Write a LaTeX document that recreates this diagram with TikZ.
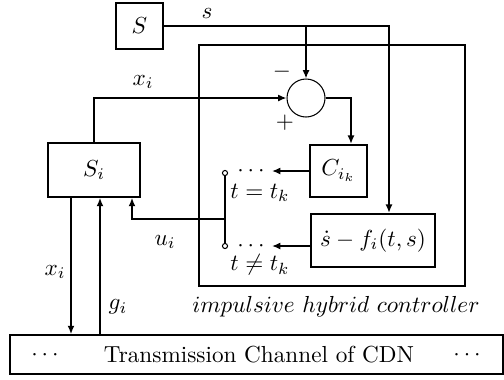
\documentclass[tikz,border=0pt]{standalone}
\usetikzlibrary{arrows.meta,calc}
\tikzset{
  blk/.style={draw, line width=0.75pt, inner sep=0pt},
  thk/.style={draw, line width=1.0pt, inner sep=0pt},
  arr/.style={-{Latex[length=3.6pt,width=3pt]}},
  ln/.style={line width=0.65pt},
  sw/.style={circle, draw, line width=0.45pt, inner sep=0pt, minimum size=2.2pt, fill=white},
  lab/.style={inner sep=0pt},
}
\begin{document}
\begin{tikzpicture}[x=0.431pt,y=-0.431pt]
\useasboundingbox (0,0) rectangle (504,379);
% blocks
\node[draw, line width=0.65pt, inner sep=0pt, minimum width={266*0.431pt}, minimum height={241*0.431pt}] (ctrl) at (332,165.5) {};
\node[blk, minimum width={47*0.431pt}, minimum height={46*0.431pt}] (S) at (139.5,26) {$S$};
\node[blk, minimum width={92*0.431pt}, minimum height={54*0.431pt}] (Si) at (94,170) {$S_i$};
\node[thk, minimum width={57*0.431pt}, minimum height={52*0.431pt}] (C) at (338.5,171) {$C_{i_k}$};
\node[thk, minimum width={124*0.431pt}, minimum height={53*0.431pt}] (sd) at (373,240.5) {$\dot s - f_i(t,s)$};
\node[draw, line width=0.45pt, circle, inner sep=0pt, minimum size={38*0.431pt}] (sum) at (306,98) {};
\node[blk, minimum width={493*0.431pt}, minimum height={39*0.431pt}] (ch) at (256.5,354.5) {};
% switch
\node[lab, anchor=west] (d1) at (237,171) {$\cdots$};
\node[lab, anchor=west] (d2) at (237,246) {$\cdots$};
\node[sw] (o1) at (225,173) {};
\node[sw] (o2) at (225,246) {};
% connectors
\draw[ln,arr] (S.east) -| ($(sd.north)+(16,0)$);
\coordinate (j1) at (S.east -| sum.north);
\draw[ln,arr] (j1) -- (sum.north);
\draw[ln,arr] (Si.north) |- (sum.west);
\draw[ln,arr] (sum.east) -| ($(C.north)+(12.5,0)$);
\draw[ln,arr] (C.west |- d1) -- ($(d1.east)+(7,0)$);
\draw[ln,arr] (sd.west |- d2) -- ($(d2.east)+(7,0)$);
\draw[ln] (o1.south) -- (o2.north);
\coordinate (j2) at (225,219);
\draw[ln,arr] (j2) -| ($(Si.south)+(38,0)$);
\coordinate (xo) at ($(Si.south)+(-23,0)$);
\draw[ln,arr] (xo) -- (xo |- ch.north);
\coordinate (gi) at ($(Si.south)+(6,0)$);
\draw[ln,arr] (gi |- ch.north) -- (gi);
% labels
\node[lab] (ls) at (207,14) {$s$};
\node[lab] (lx1) at (143,82) {$x_i$};
\node[lab] (lm) at (282,72) {$-$};
\node[lab] (lp) at (285,123) {$+$};
\node[lab] (lt1) at (260,193) {$t=t_k$};
\node[lab] (lt2) at (260,265) {$t\neq t_k$};
\node[lab] (lu) at (165,242) {$u_i$};
\node[lab] (lx2) at (55,272) {$x_i$};
\node[lab] (lg) at (118,307) {$g_i$};
\node[lab] (lctrl) at (336,307) {$impulsive\ hybrid\ controller$};
\node[lab] (cd1) at (45,355) {$\cdots$};
\node[lab] (ctext) at (259,355) {Transmission Channel of CDN};
\node[lab] (cd2) at (467,355) {$\cdots$};
\end{tikzpicture}
\end{document}
